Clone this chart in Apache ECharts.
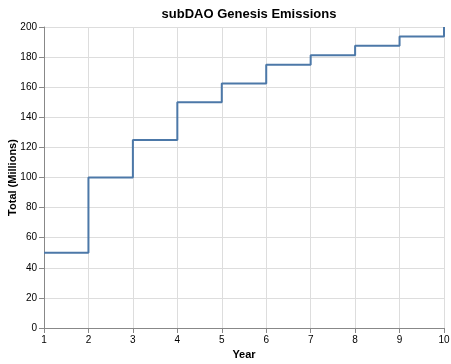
<!DOCTYPE html>
<html><head><meta charset="utf-8">
<script src="https://cdn.jsdelivr.net/npm/echarts@6/dist/echarts.min.js"></script>
<style>html,body{margin:0;padding:0;background:#fff}#c{width:451px;height:364px}</style>
</head><body><div id="c"></div>
<script>
const years = [1, 2, 3, 4, 5, 6, 7, 8, 9, 10];
const totals = [50, 100, 125, 150, 162.5, 175, 181.25, 187.5, 193.75, 200];
const chart = echarts.init(document.getElementById('c'), null, {renderer: 'canvas'});
const FONT = 'Liberation Sans, Arial, sans-serif';
chart.setOption({
  animation: false,
  backgroundColor: '#fff',
  title: {
    text: 'subDAO Genesis Emissions', left: 244, top: 3, textAlign: 'center',
    textStyle: {fontFamily: FONT, fontSize: 13, fontWeight: 'bold', color: '#000'}
  },
  grid: {left: 44, right: 7, top: 27, bottom: 36, containLabel: false, outerBoundsMode: 'none'},
  xAxis: {
    type: 'value', min: 1, max: 10, interval: 1,
    name: 'Year', nameLocation: 'middle', nameGap: 21, nameMoveOverlap: false,
    nameTextStyle: {fontFamily: FONT, fontSize: 11, fontWeight: 'bold', color: '#000'},
    axisLine: {lineStyle: {color: '#888'}},
    axisTick: {show: true, length: 5, lineStyle: {color: '#888'}},
    axisLabel: {fontFamily: FONT, fontSize: 10, color: '#000', margin: 7},
    splitLine: {show: true, lineStyle: {color: '#ddd', width: 1}}
  },
  yAxis: {
    type: 'value', min: 0, max: 200, interval: 20,
    name: 'Total (Millions)', nameLocation: 'middle', nameGap: 26, nameRotate: 90, nameMoveOverlap: false,
    nameTextStyle: {fontFamily: FONT, fontSize: 11, fontWeight: 'bold', color: '#000'},
    axisLine: {show: true, lineStyle: {color: '#888'}},
    axisTick: {show: true, length: 5, lineStyle: {color: '#888'}},
    axisLabel: {fontFamily: FONT, fontSize: 10, color: '#000', margin: 7},
    splitLine: {show: true, lineStyle: {color: '#ddd', width: 1}}
  },
  series: [{
    type: 'line', step: 'end', showSymbol: false,
    data: years.map((y, i) => [y, totals[i]]),
    lineStyle: {color: '#4c78a8', width: 2},
    itemStyle: {color: '#4c78a8'}
  }]
});
</script></body></html>
